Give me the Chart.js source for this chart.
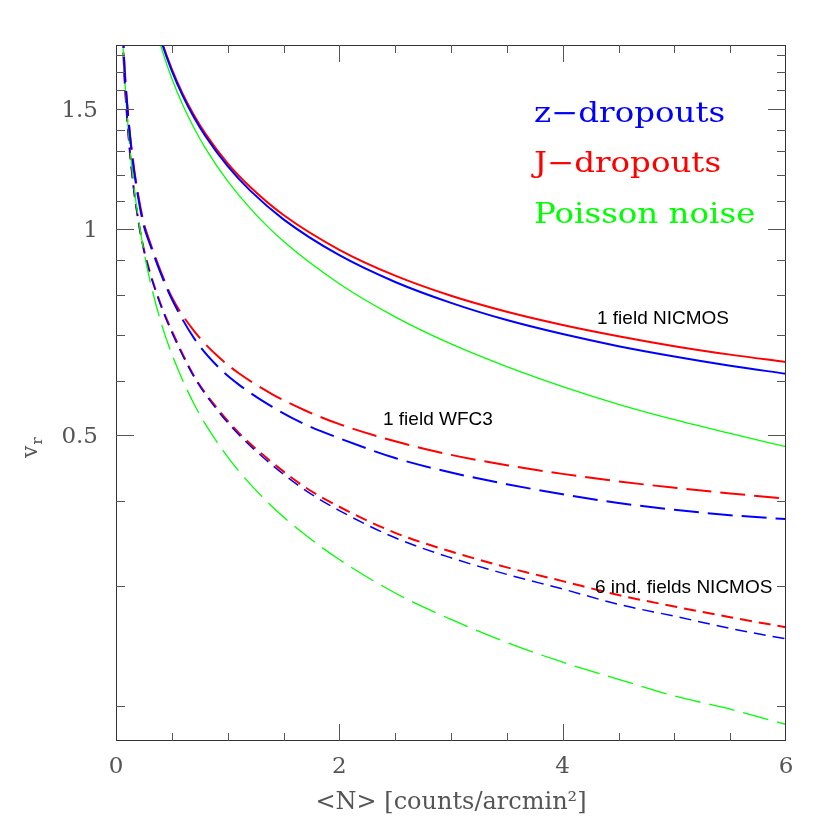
<!DOCTYPE html>
<html>
<head>
<meta charset="utf-8">
<script src="https://cdn.jsdelivr.net/npm/chart.js@4.4.0/dist/chart.umd.min.js"></script>
<style>
  body { margin: 0; background: #fff; }
  canvas { display: block; }
</style>
</head>
<body>
<canvas id="myChart" width="830" height="830"></canvas>
<script>
// values
const xSolid = [0.3, 0.4, 0.5, 0.6, 0.7, 0.8, 1, 1.2, 1.5, 2, 2.5, 3, 3.5, 4, 4.5, 5, 5.5, 6];
const blueSolid  = [2.181, 1.899, 1.707, 1.566, 1.457, 1.370, 1.237, 1.140, 1.034, 0.916, 0.837, 0.780, 0.736, 0.702, 0.674, 0.651, 0.631, 0.614];
const redSolid   = [2.188, 1.907, 1.716, 1.576, 1.468, 1.381, 1.249, 1.154, 1.049, 0.933, 0.855, 0.799, 0.757, 0.724, 0.697, 0.674, 0.655, 0.639];
const greenSolid = [2.147, 1.860, 1.663, 1.518, 1.406, 1.315, 1.176, 1.074, 0.960, 0.832, 0.744, 0.679, 0.629, 0.588, 0.554, 0.526, 0.502, 0.480];

const xDash = [0.05, 0.07, 0.1, 0.15, 0.2, 0.25, 0.3, 0.4, 0.5, 0.7, 0.9, 1.1, 1.4, 1.7, 2, 2.5, 3, 3.5, 4, 4.5, 5, 5.5, 6];
const blueLong  = [2.25, 1.80, 1.52, 1.26, 1.11, 1.01, 0.955, 0.862, 0.79, 0.692, 0.632, 0.592, 0.549, 0.517, 0.494, 0.462, 0.440, 0.423, 0.409, 0.397, 0.388, 0.381, 0.376];
const redLong   = [2.25, 1.82, 1.53, 1.27, 1.12, 1.02, 0.962, 0.868, 0.795, 0.709, 0.654, 0.615, 0.573, 0.542, 0.518, 0.489, 0.467, 0.451, 0.438, 0.427, 0.418, 0.410, 0.403];
const greenLong = [2.074, 1.753, 1.467, 1.197, 1.037, 0.928, 0.847, 0.733, 0.656, 0.554, 0.489, 0.442, 0.392, 0.356, 0.328, 0.293, 0.268, 0.248, 0.232, 0.219, 0.207, 0.198, 0.188];
const redShort  = [2.2, 1.75, 1.45, 1.18, 1.03, 0.934, 0.87, 0.777, 0.71, 0.609, 0.548, 0.503, 0.455, 0.418, 0.392, 0.359, 0.337, 0.3195, 0.305, 0.291, 0.280, 0.270, 0.261];
const blueShort = [2.2, 1.75, 1.45, 1.18, 1.03, 0.93, 0.866, 0.774, 0.706, 0.607, 0.545, 0.500, 0.451, 0.414, 0.387, 0.353, 0.330, 0.312, 0.297, 0.282, 0.271, 0.260, 0.251];

const xLabelTicks = [0, 2, 4, 6];
const xMajorTicks = [2, 4];
const xMinorTicks = [0.5, 1, 1.5, 2.5, 3, 3.5, 4.5, 5, 5.5];
const yLabelTicks = [0.5, 1, 1.5];
const yMinorTicks = [0.2, 0.3, 0.4, 0.6, 0.7, 0.8, 0.9, 1.1, 1.2, 1.3, 1.4, 1.6, 1.7, 1.8];

const legendItems = [
  { text: 'z\u2212dropouts', color: '#0000ff' },
  { text: 'J\u2212dropouts', color: '#ff0000' },
  { text: 'Poisson noise', color: '#00ff00' }
];
const notes = ['1 field NICMOS', '1 field WFC3', '6 ind. fields NICMOS'];

function pts(xs, ys) {
  return xs.map((x, i) => ({ x: x, y: ys[i] }));
}

const LONG = [25, 9];
const SHORT = [12, 7];

const datasets = [
  { label: 'z solid', data: pts(xSolid, blueSolid), borderColor: '#0000ff', borderWidth: 2 },
  { label: 'J solid', data: pts(xSolid, redSolid), borderColor: '#ff0000', borderWidth: 2 },
  { label: 'P solid', data: pts(xSolid, greenSolid), borderColor: '#00ff00', borderWidth: 1.3 },
  { label: 'z long', data: pts(xDash, blueLong), borderColor: '#0000ff', borderWidth: 2, borderDash: LONG },
  { label: 'J long', data: pts(xDash, redLong), borderColor: '#ff0000', borderWidth: 2, borderDash: LONG },
  { label: 'P long', data: pts(xDash, greenLong), borderColor: '#00ff00', borderWidth: 1.3, borderDash: [26, 9] },
  { label: 'z short', data: pts(xDash, blueShort), borderColor: '#0000ff', borderWidth: 1.5, borderDash: SHORT },
  { label: 'J short', data: pts(xDash, redShort), borderColor: '#ff0000', borderWidth: 2, borderDash: SHORT }
];

const frame = {
  id: 'frame',
  afterDatasetsDraw(chart) {
    const { ctx, chartArea: a, scales } = chart;
    const xs = scales.x, ys = scales.y;
    ctx.save();
    ctx.strokeStyle = '#333';
    ctx.lineWidth = 1;
    ctx.strokeRect(a.left + 0.5, a.top + 0.5, a.right - a.left - 1, a.bottom - a.top - 1);
    ctx.strokeStyle = '#555';
    ctx.beginPath();
    const xt = (v, len) => {
      const px = Math.round(xs.getPixelForValue(v)) + 0.5;
      ctx.moveTo(px, a.bottom); ctx.lineTo(px, a.bottom - len);
      ctx.moveTo(px, a.top); ctx.lineTo(px, a.top + len);
    };
    const yt = (v, len) => {
      const py = Math.round(ys.getPixelForValue(v)) + 0.5;
      ctx.moveTo(a.left, py); ctx.lineTo(a.left + len, py);
      ctx.moveTo(a.right, py); ctx.lineTo(a.right - len, py);
    };
    xMajorTicks.forEach(v => xt(v, 17));
    xMinorTicks.forEach(v => xt(v, 8));
    yLabelTicks.forEach(v => yt(v, 18));
    yMinorTicks.forEach(v => yt(v, 9));
    ctx.stroke();

    // legend, stretched sideways like the wide serif of the original
    ctx.font = '28px "DejaVu Serif"';
    ctx.textAlign = 'left';
    ctx.textBaseline = 'alphabetic';
    const legY = [122, 172, 223];
    legendItems.forEach((it, i) => {
      ctx.save();
      ctx.fillStyle = it.color;
      ctx.translate(534, legY[i]);
      ctx.scale(1.16, 1);
      ctx.fillText(it.text, 0, 0);
      ctx.restore();
    });

    // curve notes
    ctx.font = '19px "Liberation Sans"';
    ctx.fillStyle = '#000';
    ctx.fillText(notes[0], 597, 324);
    ctx.fillText(notes[1], 383, 425);
    ctx.fillText(notes[2], 595, 593);

    // y axis title v_r
    ctx.fillStyle = '#555';
    ctx.translate(37, 458);
    ctx.rotate(-Math.PI / 2);
    ctx.font = '22px "DejaVu Serif"';
    ctx.fillText('v', 0, 0);
    const w = ctx.measureText('v').width;
    ctx.font = '15px "DejaVu Serif"';
    ctx.fillText('r', w + 1, 5);
    ctx.restore();
  }
};

const ctx = document.getElementById('myChart').getContext('2d');
const chart = new Chart(ctx, {
  type: 'line',
  data: { datasets: datasets },
  options: {
    responsive: false,
    animation: false,
    layout: { padding: { left: 0, top: 45, right: 44, bottom: 0 } },
    elements: {
      point: { radius: 0 },
      line: { cubicInterpolationMode: 'monotone', fill: false }
    },
    plugins: { legend: { display: false }, tooltip: { enabled: false } },
    scales: {
      x: {
        type: 'linear',
        min: 0,
        max: 6,
        grid: { display: false, drawTicks: false },
        border: { display: false },
        afterBuildTicks: s => { s.ticks = xLabelTicks.map(v => ({ value: v })); },
        afterFit: s => { s.height = 89; },
        ticks: {
          padding: 12,
          color: '#555',
          font: { family: 'DejaVu Serif', size: 23 },
          maxRotation: 0,
          callback: v => String(v)
        },
        title: {
          display: true,
          text: '<N> [counts/arcmin\u00b2]',
          color: '#555',
          font: { family: 'DejaVu Serif', size: 24 },
          padding: { top: 4, bottom: 13 }
        }
      },
      y: {
        type: 'logarithmic',
        min: Math.pow(10, -0.75),
        max: Math.pow(10, 0.27),
        grid: { display: false, drawTicks: false },
        border: { display: false },
        afterBuildTicks: s => { s.ticks = yLabelTicks.map(v => ({ value: v })); },
        afterFit: s => { s.width = 116; },
        ticks: {
          padding: 18,
          labelOffset: 2,
          color: '#555',
          font: { family: 'DejaVu Serif', size: 23 },
          callback: v => String(v)
        }
      }
    }
  },
  plugins: [frame]
});
</script>
</body>
</html>
